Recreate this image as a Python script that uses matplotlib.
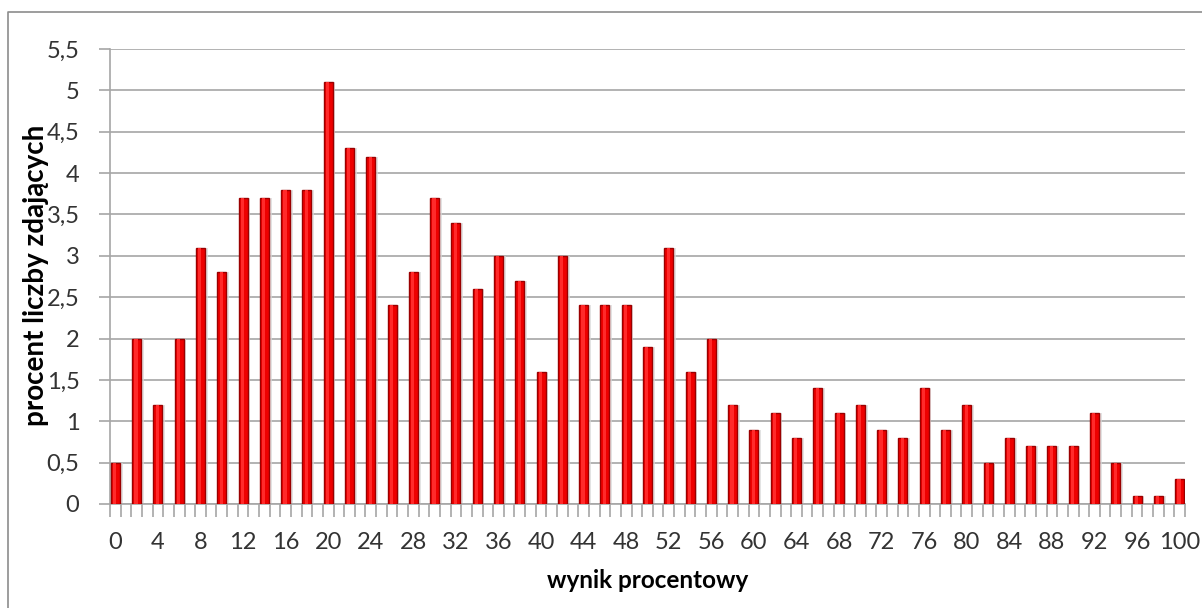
import matplotlib
matplotlib.use("Agg")
import matplotlib.pyplot as plt
from matplotlib.lines import Line2D
import numpy as np

categories = list(range(0, 101, 2))
values = [0.5, 2.0, 1.2, 2.0, 3.1, 2.8, 3.7, 3.7, 3.8, 3.8,
          5.1, 4.3, 4.2, 2.4, 2.8, 3.7, 3.4, 2.6, 3.0, 2.7,
          1.6, 3.0, 2.4, 2.4, 2.4, 1.9, 3.1, 1.6, 2.0, 1.2,
          0.9, 1.1, 0.8, 1.4, 1.1, 1.2, 0.9, 0.8, 1.4, 0.9,
          1.2, 0.5, 0.8, 0.7, 0.7, 0.7, 1.1, 0.5, 0.1, 0.1, 0.3]
xtick_values = list(range(0, 101, 4))
yticks = [0, 0.5, 1, 1.5, 2, 2.5, 3, 3.5, 4, 4.5, 5, 5.5]
ytick_labels = ["0", "0,5", "1", "1,5", "2", "2,5", "3", "3,5", "4", "4,5", "5", "5,5"]

plt.rcParams['font.family'] = ['Lato', 'DejaVu Sans']

fig = plt.figure(figsize=(12.02, 6.08), dpi=100)
ax = fig.add_axes([110/1202, 1-504/608, (1185-110)/1202, (504-49)/608])

x = np.array(categories, dtype=float)
# shadow
ax.bar(x + 0.25, values, width=0.85, color='#d8d8d8', zorder=2, alpha=0.7)
ax.bar(x, values, width=0.85, color='#ee0000', edgecolor='#9a0000', linewidth=1.0, zorder=3)
ax.bar(x - 0.06, values, width=0.3, color='#ff2a2a', linewidth=0, zorder=4)

ax.set_xlim(-0.5, 100.5)
ax.set_ylim(0, 5.5)
ax.set_yticks(yticks)
ax.set_yticklabels(ytick_labels)
ax.yaxis.grid(True, color='#a6a6a6', linewidth=1.2)
ax.set_axisbelow(True)

ax.set_xticks(xtick_values)
ax.set_xticklabels([str(c) for c in xtick_values])
ax.set_xticks(np.arange(-0.5, 101, 1.0), minor=True)
ax.tick_params(axis='x', which='major', length=0, pad=20, labelsize=17, colors='#333333')
ax.tick_params(axis='x', which='minor', length=9, width=1.2, color='#a6a6a6', direction='out')
ax.tick_params(axis='y', which='major', length=8, width=1.2, color='#a6a6a6', labelsize=17, colors='#333333', pad=14)
for lbl in ax.get_xticklabels() + ax.get_yticklabels():
    lbl.set_color('#333333')

for s in ['top', 'right']:
    ax.spines[s].set_visible(False)
ax.spines['left'].set_color('#a6a6a6')
ax.spines['bottom'].set_color('#a6a6a6')
ax.spines['left'].set_linewidth(1.2)
ax.spines['bottom'].set_linewidth(1.2)

ax.set_xlabel("wynik procentowy", fontsize=17.5, fontweight='bold', labelpad=12)
ax.set_ylabel("procent liczby zdających", fontsize=20, fontweight='bold', va='center')
ax.yaxis.set_label_coords((36 - 110) / 1075, (504 - 275) / 455)

# figure border (left and top visible)
fig.add_artist(Line2D([8/1202, 8/1202, 1.0], [0.0, 1-12/608, 1-12/608],
                      transform=fig.transFigure, color='#8c8c8c', linewidth=1.2))

fig.savefig("out.png", dpi=100)
